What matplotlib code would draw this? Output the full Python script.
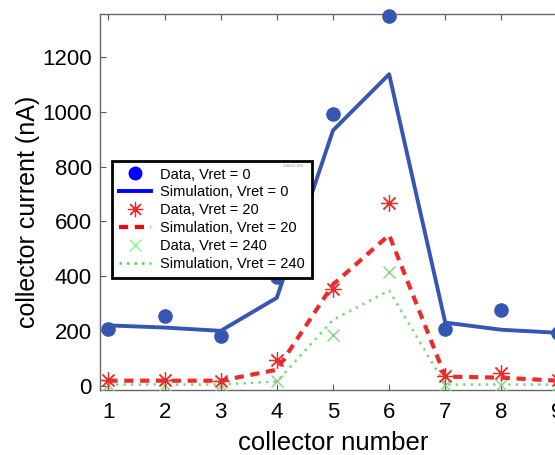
import matplotlib
matplotlib.use("Agg")
import matplotlib.pyplot as plt
from matplotlib.lines import Line2D

collectors = [1, 2, 3, 4, 5, 6, 7, 8, 9]

data_v0 = [205, 255, 183, 398, 993, 1348, 205, 277, 193]
sim_v0 = [220, 212, 200, 321, 932, 1137, 230, 204, 193]

data_v20 = [22, 22, 18, 95, 352, 668, 36, 47, 20]
sim_v20 = [18, 18, 18, 58, 369, 550, 33, 29, 18]

data_v240 = [4, 4, 4, 18, 186, 416, 4, 4, 4]
sim_v240 = [4, 4, 4, 15, 240, 347, 4, 4, 4]

yticks = [0, 200, 400, 600, 800, 1000, 1200]

plt.rcParams["font.family"] = ["Liberation Sans", "DejaVu Sans"]

W, H = 555, 455
fig = plt.figure(figsize=(W / 100, H / 100), dpi=100)
ax = fig.add_axes([100 / W, (H - 390) / H, 466 / W, 376 / H])

blue = "#3656b4"
red = "#ee2a2a"
green = "#7fd67f"

ax.plot(collectors, sim_v240, ls=(0, (1, 2)), color=green, lw=1.8, zorder=2)
ax.plot(collectors, data_v240, ls="none", marker="x", color=green, ms=9, mew=1.0, zorder=3)
ax.plot(collectors, sim_v20, ls=(0, (2.2, 1.6)), color=red, lw=3.0, zorder=4)
ax.plot(collectors, data_v20, ls="none", marker=(8, 2, 0), color=red, ms=12, mew=0.9, zorder=5)
ax.plot(collectors, sim_v0, ls="-", color=blue, lw=2.8, zorder=6)
ax.plot(collectors, data_v0, ls="none", marker="o", color=blue, ms=9.5, zorder=7, clip_on=False)

ax.set_xlim(0.85, 9.15)
ax.set_ylim(-16, 1357)
ax.set_xticks(collectors)
ax.set_yticks(yticks)
ax.tick_params(direction="in", length=4, width=0.8, color="#555555",
               labelsize=16, top=True, right=True)
ax.tick_params(axis="x", pad=9)
ax.tick_params(axis="y", pad=6)
for s in ax.spines.values():
    s.set_color("#666666")
    s.set_linewidth(1.0)

ax.set_xlabel("collector number", fontsize=18.5)
ax.set_ylabel("collector current (nA)", fontsize=18)
ax.xaxis.set_label_coords(233 / 466, -(443 - 390) / 376)
ax.yaxis.set_label_coords(-(100 - 28) / 466, (390 - 212) / 376)
ax.xaxis.label.set_va("center")
ax.yaxis.label.set_va("center")

handles = [
    Line2D([], [], ls="none", marker="o", color="#0000ff", ms=9),
    Line2D([], [], ls="-", color="#0000ff", lw=2.8),
    Line2D([], [], ls="none", marker=(8, 2, 0), color="#ff2020", ms=11, mew=0.9),
    Line2D([], [], ls=(0, (2.2, 1.6)), color="#ff0000", lw=3.0),
    Line2D([], [], ls="none", marker="x", color="#80ff80", ms=9, mew=1.0),
    Line2D([], [], ls=(0, (1, 2)), color="#40e040", lw=1.8),
]
labels = ["Data, Vret = 0", "Simulation, Vret = 0", "Data, Vret = 20",
          "Simulation, Vret = 20", "Data, Vret = 240", "Simulation, Vret = 240"]
leg = ax.legend(handles, labels, loc="upper left",
                bbox_to_anchor=((112 - 100) / 466, (390 - 161) / 376),
                fontsize=10.5, frameon=True, fancybox=False, framealpha=1,
                edgecolor="black", handlelength=2.25, handletextpad=0.62,
                labelspacing=0.27, borderpad=0.45, borderaxespad=0)
leg.get_frame().set_linewidth(2.0)
leg.set_zorder(10)
fig.text(304 / W, (H - 166) / H, "3648211-474", fontsize=2.5, color="#888888",
         ha="right", va="center", zorder=20)

fig.savefig("out.png", dpi=100)
